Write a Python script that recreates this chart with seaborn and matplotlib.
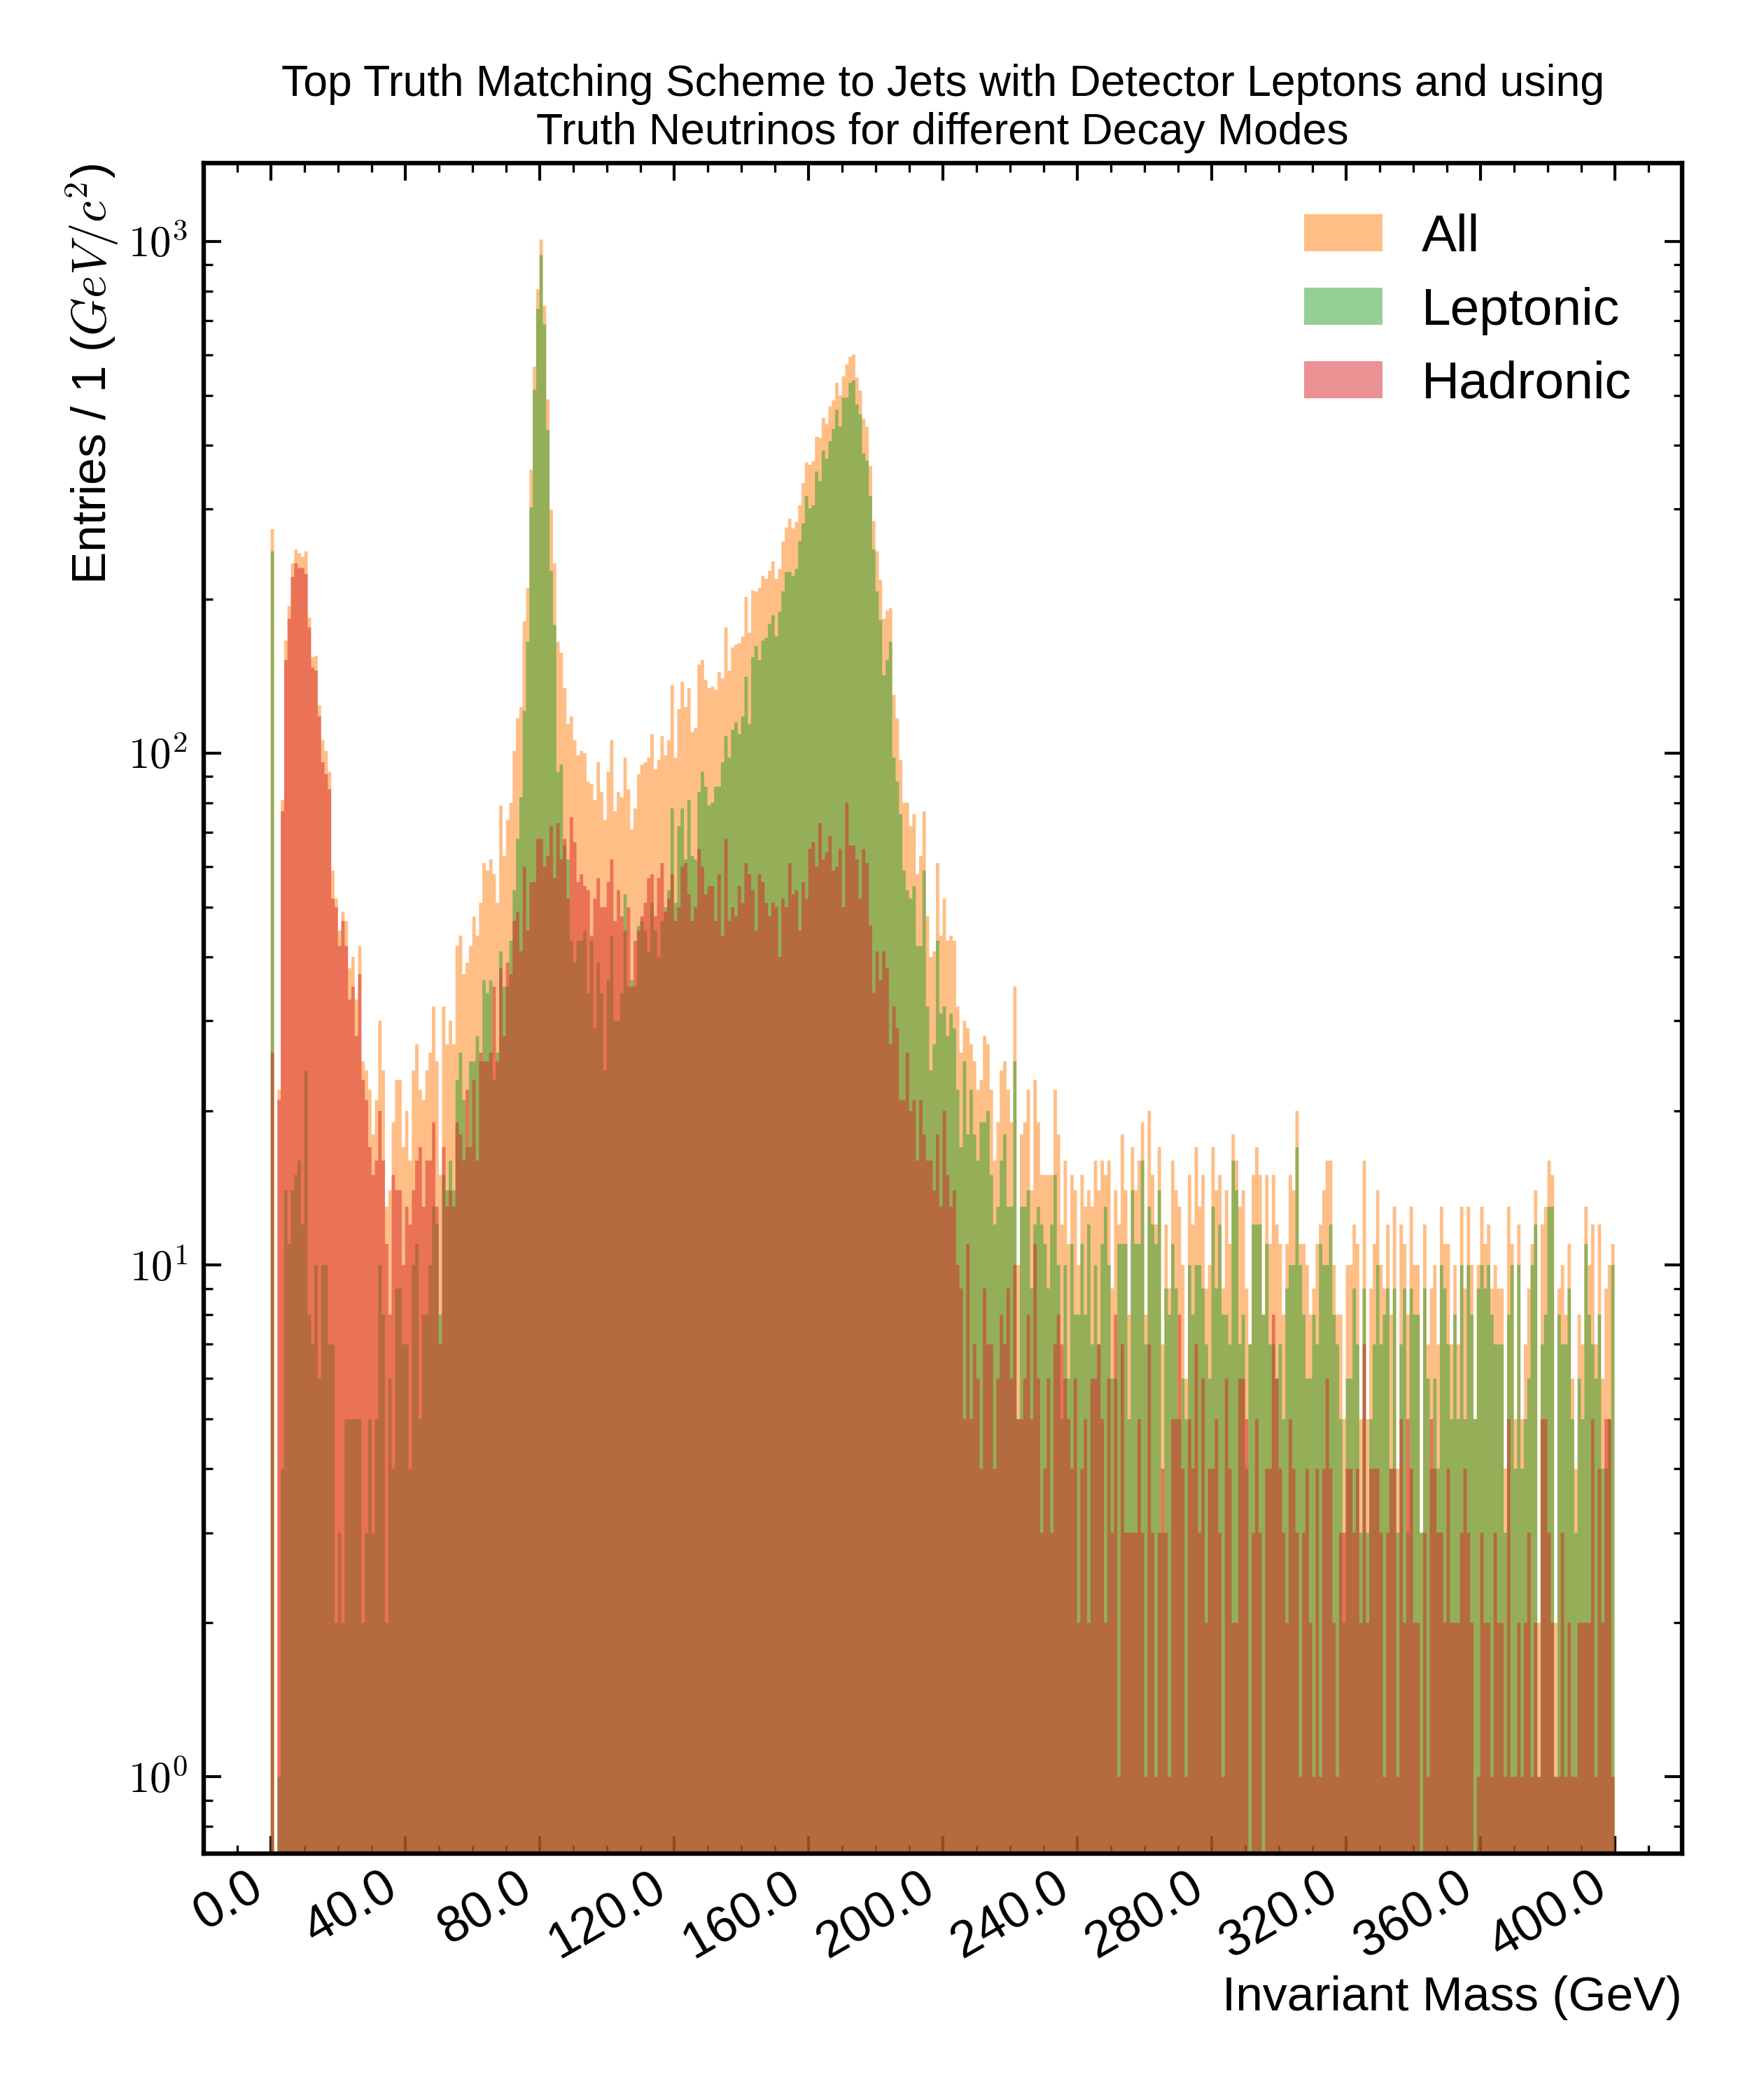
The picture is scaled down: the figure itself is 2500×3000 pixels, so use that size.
import numpy as np
import pandas as pd
import matplotlib
matplotlib.use("Agg")
import matplotlib.pyplot as plt
import seaborn as sns
from matplotlib.ticker import MultipleLocator, LogLocator, FuncFormatter, NullFormatter

# 1 GeV bins from 0 to 400
n_bins = 400
mass_range = (0, 400)

all_counts = [
    274, 0, 22, 81, 166, 194, 235, 250, 246, 242, 248, 184, 154, 155, 124, 106, 101, 92, 59, 52,
    45, 49, 47, 38, 40, 33, 42, 25, 24, 22, 18, 21, 30, 24, 13, 14, 19, 23, 23, 17,
    20, 16, 24, 27, 22, 21, 24, 26, 32, 25, 15, 32, 27, 30, 27, 42, 44, 37, 39, 42,
    48, 44, 51, 61, 59, 62, 58, 51, 79, 63, 74, 80, 101, 117, 123, 181, 210, 358, 569, 806,
    1008, 748, 491, 299, 235, 165, 157, 134, 114, 118, 106, 99, 101, 100, 88, 87, 81, 96, 84, 74,
    92, 106, 77, 84, 82, 98, 85, 71, 78, 91, 95, 96, 98, 109, 93, 97, 108, 99, 106, 136,
    98, 122, 138, 123, 134, 110, 112, 149, 152, 139, 134, 135, 133, 144, 140, 176, 145, 161, 163, 164,
    169, 202, 172, 208, 207, 210, 222, 219, 227, 237, 219, 229, 259, 276, 287, 275, 283, 305, 337, 370,
    366, 372, 415, 413, 452, 440, 476, 489, 529, 500, 545, 575, 595, 601, 542, 511, 450, 434, 364, 284,
    248, 218, 183, 190, 192, 130, 117, 97, 80, 80, 72, 76, 58, 63, 77, 48, 40, 41, 61, 44,
    52, 43, 44, 43, 32, 26, 30, 29, 27, 25, 22, 23, 28, 27, 22, 16, 19, 24, 25, 22,
    19, 35, 10, 18, 19, 22, 14, 23, 19, 15, 15, 15, 15, 22, 18, 12, 16, 11, 15, 14,
    10, 15, 13, 14, 13, 16, 14, 16, 15, 16, 9, 14, 12, 18, 14, 8, 17, 14, 16, 19,
    8, 20, 15, 12, 17, 7, 12, 9, 16, 14, 13, 10, 6, 15, 12, 17, 13, 15, 9, 10,
    17, 14, 15, 9, 14, 11, 18, 16, 13, 14, 9, 7, 15, 17, 15, 8, 15, 11, 15, 12,
    11, 8, 11, 15, 14, 20, 11, 11, 10, 8, 9, 11, 12, 14, 16, 16, 10, 8, 8, 5,
    10, 10, 12, 11, 5, 16, 5, 9, 11, 14, 10, 9, 12, 8, 13, 4, 12, 11, 8, 13,
    10, 10, 3, 12, 7, 9, 10, 7, 13, 11, 11, 7, 10, 7, 13, 9, 13, 10, 5, 10,
    13, 11, 12, 9, 10, 9, 9, 4, 13, 11, 5, 12, 5, 7, 9, 11, 14, 2, 12, 13,
    16, 15, 2, 9, 10, 8, 11, 6, 4, 8, 7, 13, 10, 12, 7, 12, 6, 9, 10, 11,
]

leptonic_counts = [
    248, 0, 1, 4, 14, 11, 14, 15, 16, 12, 24, 8, 7, 10, 6, 10, 10, 7, 7, 2,
    3, 2, 5, 5, 5, 5, 5, 2, 3, 5, 3, 5, 10, 8, 2, 6, 4, 9, 9, 7,
    7, 4, 10, 11, 5, 8, 8, 10, 13, 12, 8, 15, 14, 16, 14, 23, 26, 21, 17, 25,
    25, 28, 25, 36, 34, 36, 23, 26, 41, 35, 35, 43, 54, 68, 82, 121, 165, 302, 513, 738,
    940, 688, 428, 227, 178, 92, 95, 66, 62, 43, 39, 43, 43, 45, 34, 43, 29, 39, 34, 24,
    36, 44, 30, 30, 34, 53, 35, 36, 35, 46, 47, 45, 41, 51, 45, 40, 47, 50, 54, 78,
    51, 72, 78, 62, 81, 63, 62, 84, 92, 86, 79, 80, 86, 86, 96, 108, 98, 111, 115, 109,
    118, 141, 114, 154, 162, 152, 166, 168, 179, 186, 169, 189, 207, 226, 226, 222, 229, 260, 281, 318,
    301, 305, 355, 340, 390, 376, 407, 430, 469, 435, 495, 495, 529, 535, 480, 459, 385, 373, 318, 250,
    207, 182, 142, 152, 165, 98, 88, 76, 59, 54, 52, 55, 42, 42, 59, 32, 24, 27, 43, 31,
    32, 28, 31, 29, 22, 17, 25, 18, 22, 18, 16, 19, 19, 20, 15, 12, 13, 16, 18, 13,
    13, 25, 5, 13, 13, 14, 9, 12, 13, 12, 11, 9, 12, 15, 10, 5, 10, 6, 11, 8,
    8, 11, 8, 12, 7, 10, 7, 11, 13, 10, 6, 6, 11, 11, 11, 5, 14, 11, 11, 16,
    7, 13, 12, 11, 14, 3, 9, 8, 11, 9, 5, 6, 5, 10, 8, 10, 10, 9, 7, 6,
    13, 9, 12, 8, 8, 7, 16, 14, 7, 8, 4, 7, 12, 12, 12, 8, 11, 7, 7, 6,
    7, 5, 9, 10, 10, 17, 10, 8, 6, 6, 8, 7, 11, 10, 10, 12, 8, 7, 5, 2,
    6, 6, 9, 7, 3, 9, 3, 5, 7, 10, 7, 8, 9, 4, 9, 3, 7, 9, 3, 9,
    8, 8, 3, 9, 6, 4, 6, 4, 10, 9, 7, 5, 8, 5, 10, 5, 10, 8, 5, 9,
    10, 9, 10, 8, 7, 7, 7, 3, 8, 10, 4, 10, 4, 5, 6, 10, 12, 1, 7, 8,
    13, 13, 1, 8, 7, 7, 9, 5, 3, 6, 5, 11, 8, 7, 6, 8, 4, 4, 5, 10,
]

hadronic_counts = [
    26, 0, 21, 77, 152, 183, 221, 235, 230, 230, 224, 176, 147, 145, 118, 96, 91, 85, 52, 50,
    42, 47, 42, 33, 35, 28, 37, 23, 21, 17, 15, 16, 20, 16, 11, 8, 15, 14, 14, 10,
    13, 12, 14, 16, 17, 13, 16, 16, 19, 13, 7, 17, 13, 14, 13, 19, 18, 16, 22, 17,
    23, 16, 26, 25, 25, 26, 35, 25, 38, 28, 39, 37, 47, 49, 41, 60, 45, 56, 56, 68,
    68, 60, 63, 72, 57, 73, 62, 68, 52, 75, 67, 56, 58, 55, 54, 44, 52, 57, 50, 50,
    56, 62, 47, 54, 48, 45, 50, 35, 43, 45, 48, 51, 57, 58, 48, 57, 61, 49, 52, 58,
    47, 50, 60, 61, 53, 47, 50, 65, 60, 53, 55, 55, 47, 58, 44, 68, 47, 50, 48, 55,
    51, 61, 58, 54, 45, 58, 56, 51, 48, 51, 50, 40, 52, 50, 61, 53, 54, 45, 56, 52,
    65, 67, 60, 73, 62, 64, 69, 59, 60, 65, 50, 80, 66, 66, 62, 52, 65, 61, 46, 34,
    41, 36, 41, 38, 27, 32, 29, 21, 21, 26, 20, 21, 16, 21, 18, 16, 16, 14, 18, 13,
    20, 15, 13, 14, 10, 9, 5, 11, 5, 7, 6, 4, 9, 7, 7, 4, 6, 8, 7, 9,
    6, 10, 5, 5, 6, 8, 5, 11, 6, 3, 4, 6, 3, 7, 8, 7, 6, 5, 4, 6,
    2, 4, 5, 2, 6, 6, 7, 5, 2, 6, 3, 8, 1, 7, 3, 3, 3, 3, 5, 3,
    1, 7, 3, 1, 3, 4, 3, 1, 5, 5, 8, 4, 1, 5, 4, 7, 3, 6, 2, 4,
    4, 5, 3, 1, 6, 4, 2, 2, 6, 6, 5, 0, 3, 5, 3, 0, 4, 4, 8, 6,
    4, 3, 2, 5, 4, 3, 1, 3, 4, 2, 1, 4, 1, 4, 6, 4, 2, 1, 3, 3,
    4, 4, 3, 4, 2, 7, 2, 4, 4, 4, 3, 1, 3, 4, 4, 1, 5, 2, 5, 4,
    2, 2, 0, 3, 1, 5, 4, 3, 3, 2, 4, 2, 2, 2, 3, 4, 3, 2, 0, 1,
    3, 2, 2, 1, 3, 2, 2, 1, 5, 1, 1, 2, 1, 2, 3, 1, 2, 1, 5, 5,
    3, 2, 1, 1, 3, 1, 2, 1, 1, 2, 2, 2, 2, 5, 1, 4, 2, 5, 5, 1,
]

series_names = ["All", "Leptonic", "Hadronic"]
series_colors = ["#ff7f0e", "#2ca02c", "#d62728"]

sns.set_theme(style="ticks")
plt.rcParams["font.family"] = ["Liberation Sans", "DejaVu Sans"]
plt.rcParams["mathtext.fontset"] = "cm"
plt.rcParams["axes.edgecolor"] = "black"
plt.rcParams["xtick.color"] = "black"
plt.rcParams["ytick.color"] = "black"
plt.rcParams["text.color"] = "black"
plt.rcParams["axes.labelcolor"] = "black"

fig = plt.figure(figsize=(12.5, 15), dpi=200)
ax = fig.add_axes([0.1163, 0.1173, 0.8447, 0.8049])

centers = np.arange(n_bins) + 0.5
for counts, name, col in zip([all_counts, leptonic_counts, hadronic_counts], series_names, series_colors):
    df = pd.DataFrame({"mass": centers, "entries": counts})
    sns.histplot(data=df, x="mass", weights="entries", bins=n_bins, binrange=mass_range,
                 element="step", fill=True, alpha=0.5, color=col, linewidth=0,
                 label=name, ax=ax)

ax.set_yscale("log")
ax.set_xlim(-20, 420)
ax.set_ylim(0.708, 1420)

# ticks
ax.xaxis.set_major_locator(MultipleLocator(40))
ax.xaxis.set_minor_locator(MultipleLocator(10))
ax.xaxis.set_major_formatter(FuncFormatter(lambda v, p: f"{v:.1f}"))
ax.yaxis.set_major_locator(LogLocator(base=10))
ax.yaxis.set_minor_locator(LogLocator(base=10, subs=np.arange(2, 10)))
ax.yaxis.set_major_formatter(FuncFormatter(lambda v, p: r"$10^{%d}$" % int(round(np.log10(v)))))
ax.yaxis.set_minor_formatter(NullFormatter())

ax.tick_params(which="both", direction="in", top=True, right=True, colors="black")
ax.tick_params(which="major", length=9, width=1.5)
ax.tick_params(which="minor", length=4.5, width=1.2)
ax.tick_params(axis="x", which="major", labelsize=26, pad=5)
ax.tick_params(axis="y", which="major", labelsize=22, pad=8)
plt.setp(ax.get_xticklabels(), rotation=30, ha="right")

for sp in ax.spines.values():
    sp.set_linewidth(2.3)
    sp.set_color("black")

ax.set_xlabel("Invariant Mass (GeV)", loc="right", fontsize=25)
ax.set_ylabel(r"Entries / 1 ($GeV/c^2$)", loc="top", fontsize=25)
ax.set_title("Top Truth Matching Scheme to Jets with Detector Leptons and using\n"
             "Truth Neutrinos for different Decay Modes", fontsize=22.5, pad=10)

ax.legend(loc="upper right", frameon=False, fontsize=27, handlelength=1.5,
          handleheight=0.7, handletextpad=0.75, labelspacing=0.48, borderaxespad=0.55)

fig.savefig("out.png", dpi=200)
